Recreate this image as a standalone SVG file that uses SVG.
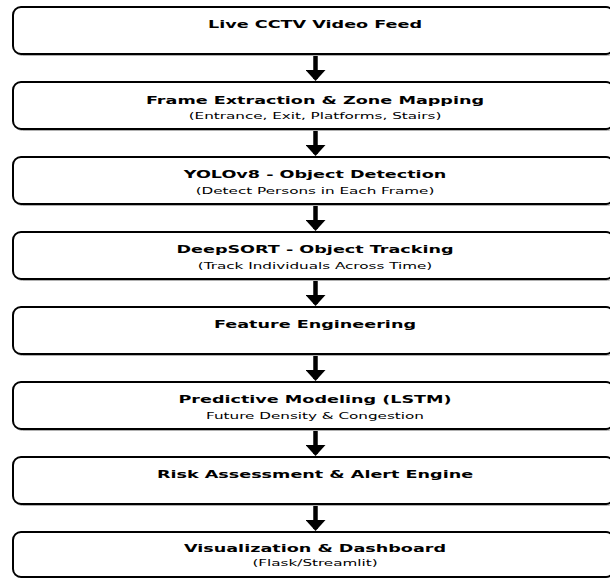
<svg xmlns="http://www.w3.org/2000/svg" width="610" height="578" viewBox="0 0 610 578">
<style>
.box{fill:#fff;stroke:#000;stroke-width:2}
.sh{fill:none;stroke:#b0b0b0;stroke-width:1}
.t{font-family:"DejaVu Sans",sans-serif;font-weight:bold;font-size:11px;text-anchor:middle;fill:#000}
.s{font-family:"DejaVu Sans",sans-serif;font-size:9.5px;text-anchor:middle;fill:#000}
.c{stroke:#000;stroke-width:4.5;fill:none}
</style>
<defs>
<marker id="ah" markerUnits="userSpaceOnUse" markerWidth="11" markerHeight="20" viewBox="0 0 11 20" refX="9" refY="10" orient="auto">
<path d="M0,0 L11,10 L0,20 z" fill="#000"/>
</marker>
</defs>
<rect width="610" height="578" fill="#fff"/>
<g id="connectors">
<line class="c" x1="315.5" y1="55" x2="315.5" y2="79" marker-end="url(#ah)"/>
<line class="c" x1="315.5" y1="130" x2="315.5" y2="154" marker-end="url(#ah)"/>
<line class="c" x1="315.5" y1="205" x2="315.5" y2="229" marker-end="url(#ah)"/>
<line class="c" x1="315.5" y1="280" x2="315.5" y2="304" marker-end="url(#ah)"/>
<line class="c" x1="315.5" y1="355" x2="315.5" y2="379" marker-end="url(#ah)"/>
<line class="c" x1="315.5" y1="430" x2="315.5" y2="454" marker-end="url(#ah)"/>
<line class="c" x1="315.5" y1="505" x2="315.5" y2="529" marker-end="url(#ah)"/>
</g>
<g id="n1">
<rect class="sh" x="14.5" y="8.5" width="601" height="47" rx="8"/>
<rect class="box" x="13" y="7" width="601" height="47" rx="8"/>
<text class="t" transform="translate(315 28) scale(1.6 1)">Live CCTV Video Feed</text>
</g>
<g id="n2">
<rect class="sh" x="14.5" y="83.5" width="601" height="47" rx="8"/>
<rect class="box" x="13" y="82" width="601" height="47" rx="8"/>
<text class="t" transform="translate(315 103.5) scale(1.6 1)">Frame Extraction &amp; Zone Mapping</text>
<text class="s" transform="translate(315 119.3) scale(1.6 1)">(Entrance, Exit, Platforms, Stairs)</text>
</g>
<g id="n3">
<rect class="sh" x="14.5" y="158.5" width="601" height="47" rx="8"/>
<rect class="box" x="13" y="157" width="601" height="47" rx="8"/>
<text class="t" transform="translate(315 178) scale(1.6 1)">YOLOv8 - Object Detection</text>
<text class="s" transform="translate(315 193.8) scale(1.6 1)">(Detect Persons in Each Frame)</text>
</g>
<g id="n4">
<rect class="sh" x="14.5" y="233.5" width="601" height="47" rx="8"/>
<rect class="box" x="13" y="232" width="601" height="47" rx="8"/>
<text class="t" transform="translate(315 253) scale(1.6 1)">DeepSORT - Object Tracking</text>
<text class="s" transform="translate(315 268.8) scale(1.6 1)">(Track Individuals Across Time)</text>
</g>
<g id="n5">
<rect class="sh" x="14.5" y="308.5" width="601" height="47" rx="8"/>
<rect class="box" x="13" y="307" width="601" height="47" rx="8"/>
<text class="t" transform="translate(315 327.5) scale(1.6 1)">Feature Engineering</text>
</g>
<g id="n6">
<rect class="sh" x="14.5" y="383.5" width="601" height="47" rx="8"/>
<rect class="box" x="13" y="382" width="601" height="47" rx="8"/>
<text class="t" transform="translate(315 403) scale(1.6 1)">Predictive Modeling (LSTM)</text>
<text class="s" transform="translate(315 418.8) scale(1.6 1)">Future Density &amp; Congestion</text>
</g>
<g id="n7">
<rect class="sh" x="14.5" y="458.5" width="601" height="47" rx="8"/>
<rect class="box" x="13" y="457" width="601" height="47" rx="8"/>
<text class="t" transform="translate(315 477.5) scale(1.6 1)">Risk Assessment &amp; Alert Engine</text>
</g>
<g id="n8">
<rect class="sh" x="14.5" y="533.5" width="601" height="45" rx="8"/>
<rect class="box" x="13" y="532" width="601" height="45" rx="8"/>
<text class="t" transform="translate(315 552) scale(1.6 1)">Visualization &amp; Dashboard</text>
<text class="s" transform="translate(315 566) scale(1.6 1)">(Flask/Streamlit)</text>
</g>
</svg>
